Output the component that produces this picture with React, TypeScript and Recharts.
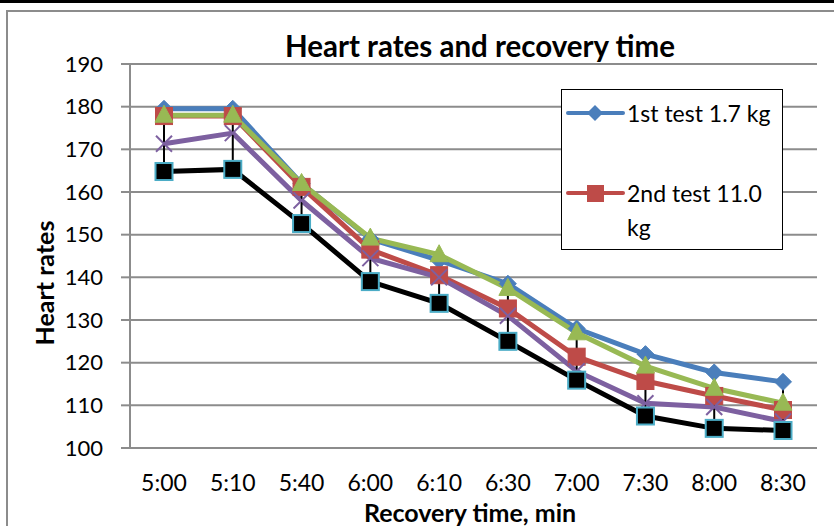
import React from 'react';
import { LineChart, Line, XAxis, YAxis, CartesianGrid, Legend, ErrorBar } from 'recharts';

const categories = ['5:00', '5:10', '5:40', '6:00', '6:10', '6:30', '7:00', '7:30', '8:00', '8:30'];
const test1 = [179.5, 179.5, 162, 149, 144, 138.5, 128, 122, 117.7, 115.5];
const test2 = [177.8, 177.8, 161.2, 146.5, 140.5, 132.7, 121.4, 115.7, 112.2, 108.9];
const test3 = [178, 178, 162, 149.2, 145.3, 137.4, 127, 119.2, 114, 110.5];
const test4 = [171.3, 173.8, 158, 144.5, 140, 131, 118, 110.5, 109.6, 106.2];
const test5 = [164.8, 165.3, 152.6, 139, 133.9, 125, 115.9, 107.5, 104.6, 104.1];
const yTicks = [100, 110, 120, 130, 140, 150, 160, 170, 180, 190];
const seriesNames = ['1st test 1.7 kg', '2nd test 11.0 kg', '3rd test', '4th test', '5th test'];
const legendShown = ['1st test 1.7 kg', '2nd test 11.0 kg'];

const BLUE = '#4A7EBB';
const RED = '#BE4B48';
const GREEN = '#98B954';
const PURPLE = '#7D60A0';
const CYAN = '#4BACC6';
const GRID = '#8c8c8c';
const FONT = 'Lato, "Noto Sans", sans-serif';

const data = categories.map((c, i) => {
  const vals = [test1[i], test2[i], test3[i], test4[i], test5[i]];
  const hi = Math.max(...vals);
  const lo = Math.min(...vals);
  return { cat: c, s1: test1[i], s2: test2[i], s3: test3[i], s4: test4[i], s5: test5[i], hl: [0, hi - lo] };
});

const Diamond = (p: any) => {
  const { cx, cy } = p;
  if (cx == null || cy == null) return null;
  const r = 8.5;
  return <polygon key={p.key} points={`${cx},${cy - r} ${cx + r},${cy} ${cx},${cy + r} ${cx - r},${cy}`} fill={BLUE} stroke={BLUE} strokeWidth={1} />;
};
const Square = (p: any) => {
  const { cx, cy } = p;
  if (cx == null || cy == null) return null;
  const s = 17;
  return <rect key={p.key} x={cx - s / 2} y={cy - s / 2} width={s} height={s} fill={RED} stroke={RED} strokeWidth={1} />;
};
const Triangle = (p: any) => {
  const { cx, cy } = p;
  if (cx == null || cy == null) return null;
  return <polygon key={p.key} points={`${cx},${cy - 10} ${cx + 9},${cy + 7} ${cx - 9},${cy + 7}`} fill={GREEN} stroke={GREEN} strokeWidth={1} />;
};
const Cross = (p: any) => {
  const { cx, cy } = p;
  if (cx == null || cy == null) return null;
  const r = 8;
  return (
    <g key={p.key}>
      <line x1={cx - r} y1={cy - r} x2={cx + r} y2={cy + r} stroke={PURPLE} strokeWidth={2} />
      <line x1={cx - r} y1={cy + r} x2={cx + r} y2={cy - r} stroke={PURPLE} strokeWidth={2} />
    </g>
  );
};
const BlackSquare = (p: any) => {
  const { cx, cy } = p;
  if (cx == null || cy == null) return null;
  const s = 17;
  return <rect key={p.key} x={cx - s / 2} y={cy - s / 2} width={s} height={s} fill="#000" stroke={CYAN} strokeWidth={2} />;
};

const renderLegend = (props: any) => {
  const items = (props.payload || []).filter((it: any) => legendShown.includes(it.value));
  return (
    <div style={{ width: 222, height: 161, boxSizing: 'border-box', border: '1.5px solid #000', background: '#fff', fontFamily: FONT, fontSize: 23, color: '#000', position: 'relative' }}>
      {items.map((it: any, i: number) => {
        const top = i === 0 ? 6 : 86;
        const isFirst = i === 0;
        return (
          <div key={it.value} style={{ position: 'absolute', left: 0, top, width: 220 }}>
            <svg width={62} height={34} style={{ position: 'absolute', left: 4, top: 0 }}>
              <line x1={2} y1={17} x2={57} y2={17} stroke={it.color} strokeWidth={4} strokeLinecap="round" />
              {isFirst ? (
                <polygon points="29,9 37,17 29,25 21,17" fill={it.color} />
              ) : (
                <rect x={21} y={9} width={17} height={17} fill={it.color} />
              )}
            </svg>
            <div style={{ position: 'absolute', left: 65, top: 0, width: 154, lineHeight: '34px', textAlign: 'left' }}>{it.value}</div>
          </div>
        );
      })}
    </div>
  );
};

const YTitle = () => (
  <text x={44} y={283} transform="rotate(-90 44 283)" textAnchor="middle" dominantBaseline="central" fontFamily={FONT} fontWeight="bold" fontSize={25} fill="#000">
    Heart rates
  </text>
);
const XTitle = () => (
  <text x={470} y={512} textAnchor="middle" dominantBaseline="central" fontFamily={FONT} fontWeight="bold" fontSize={25} fill="#000">
    Recovery time, min
  </text>
);

export default function App() {
  return (
    <div style={{ position: 'absolute', left: 0, top: 0, width: 834, height: 526, background: '#fff', overflow: 'hidden' }}>
      <div style={{ position: 'absolute', left: 0, top: 0, width: 834, height: 3, background: '#000' }} />
      <div style={{ position: 'absolute', left: 6, top: 10, width: 900, height: 600, borderLeft: `2px solid ${GRID}`, borderTop: `2px solid ${GRID}` }} />
      <div style={{ position: 'absolute', left: 0, top: 0 }}>
        <LineChart width={834} height={526} data={data} margin={{ top: 64, right: 17, bottom: 0, left: 0 }}>
          <text x={480} y={45} textAnchor="middle" dominantBaseline="central" fontFamily={FONT} fontWeight="bold" fontSize={29.5} fill="#000">
            Heart rates and recovery time
          </text>
          <CartesianGrid horizontal vertical={false} stroke={GRID} strokeWidth={2} />
          <XAxis dataKey="cat" height={78} padding={{ left: 34, right: 34 }} axisLine={{ stroke: GRID, strokeWidth: 2 }} tickLine={false} tickSize={0} tickMargin={27}
            tick={{ fontFamily: FONT, fontSize: 23, fill: '#000' }} label={<XTitle />} interval={0} />
          <YAxis width={130} domain={[100, 190]} ticks={yTicks} interval={0} axisLine={{ stroke: GRID, strokeWidth: 2 }}
            tickLine={{ stroke: GRID, strokeWidth: 2 }} tickSize={9} tickMargin={18}
            tick={{ fontFamily: FONT, fontSize: 22, fill: '#000' }} label={<YTitle />} allowDataOverflow />
          <Legend layout="horizontal" verticalAlign="middle" align="center" content={renderLegend}
            wrapperStyle={{ position: 'absolute', left: 561, top: 89, width: 222, height: 161 }} />
          <Line dataKey="s1" name={seriesNames[0]} stroke={BLUE} strokeWidth={5} dot={<Diamond />} activeDot={false} isAnimationActive={false} />
          <Line dataKey="s2" name={seriesNames[1]} stroke={RED} strokeWidth={5} dot={<Square />} activeDot={false} isAnimationActive={false} />
          <Line dataKey="s3" name={seriesNames[2]} stroke={GREEN} strokeWidth={5} dot={<Triangle />} activeDot={false} isAnimationActive={false} />
          <Line dataKey="s4" name={seriesNames[3]} stroke={PURPLE} strokeWidth={5} dot={<Cross />} activeDot={false} isAnimationActive={false} />
          <Line dataKey="s5" name={seriesNames[4]} stroke="#000" strokeWidth={5} dot={<BlackSquare />} activeDot={false} isAnimationActive={false}>
            <ErrorBar dataKey="hl" width={0} stroke="#000" strokeWidth={2} direction="y" isAnimationActive={false} />
          </Line>
        </LineChart>
      </div>
    </div>
  );
}
